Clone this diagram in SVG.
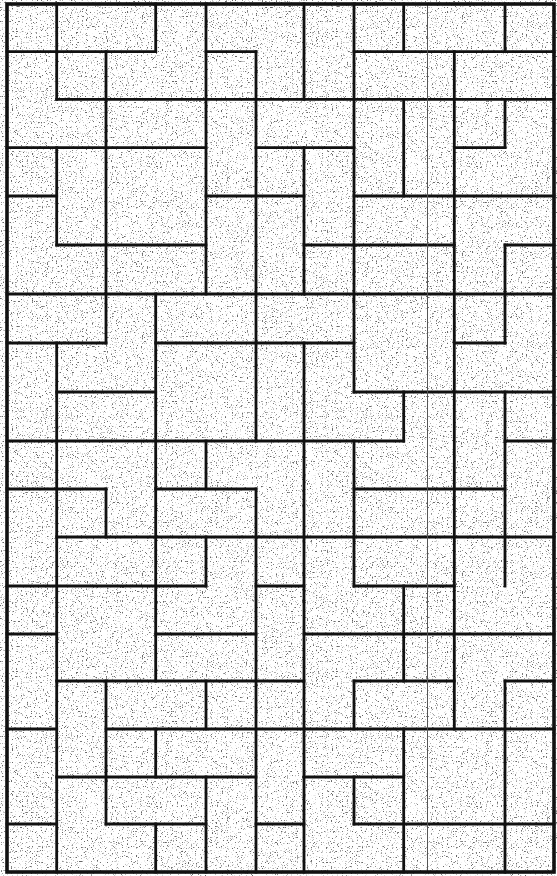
<svg xmlns="http://www.w3.org/2000/svg" width="557" height="876" viewBox="0 0 557 876">
<defs>
<filter id="speck" x="0" y="0" width="557" height="876" filterUnits="userSpaceOnUse" color-interpolation-filters="sRGB">
<feTurbulence type="fractalNoise" baseFrequency="0.8" numOctaves="2" seed="4"/>
<feColorMatrix type="matrix" values="0 0 0 0 0.4  0 0 0 0 0.4  0 0 0 0 0.4  -7 0 0 0 2.75"/>
</filter>
</defs>
<style>
.ln{fill:none;stroke:#111;stroke-width:2.8;stroke-linecap:square}
.bd{fill:none;stroke:#111;stroke-width:3.6}
.thin{fill:none;stroke:#555;stroke-width:1}
</style>
<rect x="0" y="0" width="557" height="876" fill="#fff"/>
<rect x="0" y="0" width="557" height="876" fill="#fff" filter="url(#speck)"/>
<g id="tiles">
<path class="ln" d="M7 51.7H155.7M206 51.7H256M354 51.7H554
M56.7 99.3H554
M7 147.7H206M256 147.7H354M454.3 147.7H505
M7 196H56.7M206 196H304M354 196H554
M56.7 245H206M304 245H454.3M505 245H554
M7 294H554
M7 343H106M155.7 343H354M454.3 343H505
M56.7 392H155.7M354 392H554
M7 441H403.7M505 441H554
M7 489H106M155.7 489H256M354 489H505
M56.7 537H554
M7 586H206M256 586H304M354 586H454.3
M7 634H56.7M155.7 634H256M304 634H554
M56.7 681H304M354 681H454.3M505 681H554
M7 729H56.7M106 729H554
M56.7 777H256M304 777H403.7
M7 824H56.7M106 824H206M256 824H304M354 824H554"/>
<path class="ln" d="M56.7 4V99.3M56.7 147.7V245M56.7 343V872
M106 51.7V343M106 489V537M106 681V824
M155.7 4V51.7M155.7 294V681M155.7 729V777M155.7 824V872
M206 4V294M206 441V489M206 537V586M206 681V729M206 777V872
M256 51.7V441M256 489V872
M304 4V99.3M304 147.7V294M304 343V872
M354 4V392M354 441V586M354 681V729M354 777V824
M403.7 4V51.7M403.7 99.3V196M403.7 392V441M403.7 586V681M403.7 729V872
M454.3 51.7V729
M505 4V51.7M505 99.3V147.7M505 245V343M505 392V586M505 681V872"/>
<path class="thin" d="M427.5 4V872"/>
</g>
<rect class="bd" x="7" y="4" width="547" height="868"/>
</svg>
